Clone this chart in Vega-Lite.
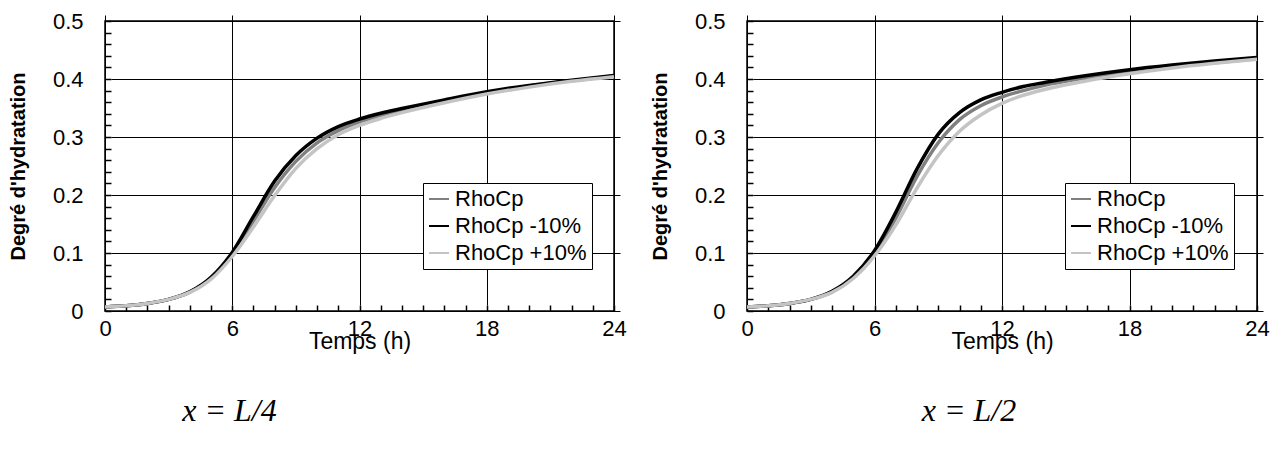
{
  "$schema": "https://vega.github.io/schema/vega-lite/v6.json",
  "padding": {"left": 7, "top": 9, "right": 0, "bottom": 0},
  "background": "white",
  "config": {
    "font": "Liberation Sans",
    "view": {"stroke": "#000", "strokeWidth": 1.5},
    "axis": {
      "domain": false,
      "ticks": true,
      "tickColor": "#000",
      "tickWidth": 1.5,
      "tickOpacity": 1,
      "tickSize": 6,
      "offset": -6,
      "gridColor": "#000",
      "gridWidth": 1,
      "labelFont": "Liberation Sans",
      "labelFontSize": 22,
      "labelColor": "#000",
      "labelFlush": false,
      "labelOverlap": false,
      "titleFont": "Liberation Sans",
      "titleColor": "#000"
    },
    "legend": {
      "orient": "none",
      "legendX": 318,
      "legendY": 162,
      "fillColor": "white",
      "strokeColor": "#000",
      "padding": 5,
      "labelFont": "Liberation Sans",
      "labelFontSize": 22,
      "labelColor": "#000",
      "symbolType": "stroke",
      "symbolSize": 400,
      "symbolStrokeWidth": 2,
      "rowPadding": 5,
      "labelOffset": 5,
      "title": null
    },
    "title": {"font": "Liberation Serif", "fontStyle": "italic", "fontSize": 32, "fontWeight": "normal", "color": "#000", "orient": "bottom", "offset": 43}
  },
  "datasets": {
    "curves": [
      {"panel": "L4", "serie": "RhoCp", "t": 0, "y": 0.007},
      {"panel": "L4", "serie": "RhoCp", "t": 1, "y": 0.009},
      {"panel": "L4", "serie": "RhoCp", "t": 2, "y": 0.013},
      {"panel": "L4", "serie": "RhoCp", "t": 3, "y": 0.02},
      {"panel": "L4", "serie": "RhoCp", "t": 4, "y": 0.033},
      {"panel": "L4", "serie": "RhoCp", "t": 5, "y": 0.057},
      {"panel": "L4", "serie": "RhoCp", "t": 6, "y": 0.098},
      {"panel": "L4", "serie": "RhoCp", "t": 7, "y": 0.155},
      {"panel": "L4", "serie": "RhoCp", "t": 8, "y": 0.213},
      {"panel": "L4", "serie": "RhoCp", "t": 9, "y": 0.258},
      {"panel": "L4", "serie": "RhoCp", "t": 10, "y": 0.29},
      {"panel": "L4", "serie": "RhoCp", "t": 11, "y": 0.311},
      {"panel": "L4", "serie": "RhoCp", "t": 12, "y": 0.326},
      {"panel": "L4", "serie": "RhoCp", "t": 13, "y": 0.337},
      {"panel": "L4", "serie": "RhoCp", "t": 14, "y": 0.346},
      {"panel": "L4", "serie": "RhoCp", "t": 16, "y": 0.362},
      {"panel": "L4", "serie": "RhoCp", "t": 18, "y": 0.376},
      {"panel": "L4", "serie": "RhoCp", "t": 20, "y": 0.388},
      {"panel": "L4", "serie": "RhoCp", "t": 22, "y": 0.397},
      {"panel": "L4", "serie": "RhoCp", "t": 24, "y": 0.405},
      {"panel": "L4", "serie": "RhoCp -10%", "t": 0, "y": 0.007},
      {"panel": "L4", "serie": "RhoCp -10%", "t": 1, "y": 0.009},
      {"panel": "L4", "serie": "RhoCp -10%", "t": 2, "y": 0.013},
      {"panel": "L4", "serie": "RhoCp -10%", "t": 3, "y": 0.02},
      {"panel": "L4", "serie": "RhoCp -10%", "t": 4, "y": 0.033},
      {"panel": "L4", "serie": "RhoCp -10%", "t": 5, "y": 0.058},
      {"panel": "L4", "serie": "RhoCp -10%", "t": 6, "y": 0.101},
      {"panel": "L4", "serie": "RhoCp -10%", "t": 7, "y": 0.163},
      {"panel": "L4", "serie": "RhoCp -10%", "t": 8, "y": 0.224},
      {"panel": "L4", "serie": "RhoCp -10%", "t": 9, "y": 0.268},
      {"panel": "L4", "serie": "RhoCp -10%", "t": 10, "y": 0.298},
      {"panel": "L4", "serie": "RhoCp -10%", "t": 11, "y": 0.318},
      {"panel": "L4", "serie": "RhoCp -10%", "t": 12, "y": 0.331},
      {"panel": "L4", "serie": "RhoCp -10%", "t": 13, "y": 0.341},
      {"panel": "L4", "serie": "RhoCp -10%", "t": 14, "y": 0.349},
      {"panel": "L4", "serie": "RhoCp -10%", "t": 16, "y": 0.364},
      {"panel": "L4", "serie": "RhoCp -10%", "t": 18, "y": 0.378},
      {"panel": "L4", "serie": "RhoCp -10%", "t": 20, "y": 0.389},
      {"panel": "L4", "serie": "RhoCp -10%", "t": 22, "y": 0.398},
      {"panel": "L4", "serie": "RhoCp -10%", "t": 24, "y": 0.406},
      {"panel": "L4", "serie": "RhoCp +10%", "t": 0, "y": 0.007},
      {"panel": "L4", "serie": "RhoCp +10%", "t": 1, "y": 0.009},
      {"panel": "L4", "serie": "RhoCp +10%", "t": 2, "y": 0.013},
      {"panel": "L4", "serie": "RhoCp +10%", "t": 3, "y": 0.02},
      {"panel": "L4", "serie": "RhoCp +10%", "t": 4, "y": 0.032},
      {"panel": "L4", "serie": "RhoCp +10%", "t": 5, "y": 0.055},
      {"panel": "L4", "serie": "RhoCp +10%", "t": 6, "y": 0.094},
      {"panel": "L4", "serie": "RhoCp +10%", "t": 7, "y": 0.145},
      {"panel": "L4", "serie": "RhoCp +10%", "t": 8, "y": 0.199},
      {"panel": "L4", "serie": "RhoCp +10%", "t": 9, "y": 0.246},
      {"panel": "L4", "serie": "RhoCp +10%", "t": 10, "y": 0.28},
      {"panel": "L4", "serie": "RhoCp +10%", "t": 11, "y": 0.304},
      {"panel": "L4", "serie": "RhoCp +10%", "t": 12, "y": 0.32},
      {"panel": "L4", "serie": "RhoCp +10%", "t": 13, "y": 0.332},
      {"panel": "L4", "serie": "RhoCp +10%", "t": 14, "y": 0.342},
      {"panel": "L4", "serie": "RhoCp +10%", "t": 16, "y": 0.359},
      {"panel": "L4", "serie": "RhoCp +10%", "t": 18, "y": 0.374},
      {"panel": "L4", "serie": "RhoCp +10%", "t": 20, "y": 0.386},
      {"panel": "L4", "serie": "RhoCp +10%", "t": 22, "y": 0.396},
      {"panel": "L4", "serie": "RhoCp +10%", "t": 24, "y": 0.404},
      {"panel": "L2", "serie": "RhoCp", "t": 0, "y": 0.007},
      {"panel": "L2", "serie": "RhoCp", "t": 1, "y": 0.009},
      {"panel": "L2", "serie": "RhoCp", "t": 2, "y": 0.013},
      {"panel": "L2", "serie": "RhoCp", "t": 3, "y": 0.02},
      {"panel": "L2", "serie": "RhoCp", "t": 4, "y": 0.033},
      {"panel": "L2", "serie": "RhoCp", "t": 5, "y": 0.058},
      {"panel": "L2", "serie": "RhoCp", "t": 6, "y": 0.1},
      {"panel": "L2", "serie": "RhoCp", "t": 7, "y": 0.16},
      {"panel": "L2", "serie": "RhoCp", "t": 8, "y": 0.232},
      {"panel": "L2", "serie": "RhoCp", "t": 9, "y": 0.29},
      {"panel": "L2", "serie": "RhoCp", "t": 10, "y": 0.33},
      {"panel": "L2", "serie": "RhoCp", "t": 11, "y": 0.354},
      {"panel": "L2", "serie": "RhoCp", "t": 12, "y": 0.369},
      {"panel": "L2", "serie": "RhoCp", "t": 13, "y": 0.38},
      {"panel": "L2", "serie": "RhoCp", "t": 14, "y": 0.389},
      {"panel": "L2", "serie": "RhoCp", "t": 16, "y": 0.402},
      {"panel": "L2", "serie": "RhoCp", "t": 18, "y": 0.413},
      {"panel": "L2", "serie": "RhoCp", "t": 20, "y": 0.421},
      {"panel": "L2", "serie": "RhoCp", "t": 22, "y": 0.428},
      {"panel": "L2", "serie": "RhoCp", "t": 24, "y": 0.435},
      {"panel": "L2", "serie": "RhoCp -10%", "t": 0, "y": 0.007},
      {"panel": "L2", "serie": "RhoCp -10%", "t": 1, "y": 0.009},
      {"panel": "L2", "serie": "RhoCp -10%", "t": 2, "y": 0.013},
      {"panel": "L2", "serie": "RhoCp -10%", "t": 3, "y": 0.02},
      {"panel": "L2", "serie": "RhoCp -10%", "t": 4, "y": 0.034},
      {"panel": "L2", "serie": "RhoCp -10%", "t": 5, "y": 0.06},
      {"panel": "L2", "serie": "RhoCp -10%", "t": 6, "y": 0.104},
      {"panel": "L2", "serie": "RhoCp -10%", "t": 7, "y": 0.17},
      {"panel": "L2", "serie": "RhoCp -10%", "t": 8, "y": 0.245},
      {"panel": "L2", "serie": "RhoCp -10%", "t": 9, "y": 0.305},
      {"panel": "L2", "serie": "RhoCp -10%", "t": 10, "y": 0.342},
      {"panel": "L2", "serie": "RhoCp -10%", "t": 11, "y": 0.364},
      {"panel": "L2", "serie": "RhoCp -10%", "t": 12, "y": 0.377},
      {"panel": "L2", "serie": "RhoCp -10%", "t": 13, "y": 0.387},
      {"panel": "L2", "serie": "RhoCp -10%", "t": 14, "y": 0.394},
      {"panel": "L2", "serie": "RhoCp -10%", "t": 16, "y": 0.406},
      {"panel": "L2", "serie": "RhoCp -10%", "t": 18, "y": 0.416},
      {"panel": "L2", "serie": "RhoCp -10%", "t": 20, "y": 0.424},
      {"panel": "L2", "serie": "RhoCp -10%", "t": 22, "y": 0.431},
      {"panel": "L2", "serie": "RhoCp -10%", "t": 24, "y": 0.437},
      {"panel": "L2", "serie": "RhoCp +10%", "t": 0, "y": 0.007},
      {"panel": "L2", "serie": "RhoCp +10%", "t": 1, "y": 0.009},
      {"panel": "L2", "serie": "RhoCp +10%", "t": 2, "y": 0.013},
      {"panel": "L2", "serie": "RhoCp +10%", "t": 3, "y": 0.02},
      {"panel": "L2", "serie": "RhoCp +10%", "t": 4, "y": 0.032},
      {"panel": "L2", "serie": "RhoCp +10%", "t": 5, "y": 0.056},
      {"panel": "L2", "serie": "RhoCp +10%", "t": 6, "y": 0.095},
      {"panel": "L2", "serie": "RhoCp +10%", "t": 7, "y": 0.148},
      {"panel": "L2", "serie": "RhoCp +10%", "t": 8, "y": 0.212},
      {"panel": "L2", "serie": "RhoCp +10%", "t": 9, "y": 0.268},
      {"panel": "L2", "serie": "RhoCp +10%", "t": 10, "y": 0.31},
      {"panel": "L2", "serie": "RhoCp +10%", "t": 11, "y": 0.338},
      {"panel": "L2", "serie": "RhoCp +10%", "t": 12, "y": 0.358},
      {"panel": "L2", "serie": "RhoCp +10%", "t": 13, "y": 0.372},
      {"panel": "L2", "serie": "RhoCp +10%", "t": 14, "y": 0.382},
      {"panel": "L2", "serie": "RhoCp +10%", "t": 16, "y": 0.397},
      {"panel": "L2", "serie": "RhoCp +10%", "t": 18, "y": 0.409},
      {"panel": "L2", "serie": "RhoCp +10%", "t": 20, "y": 0.419},
      {"panel": "L2", "serie": "RhoCp +10%", "t": 22, "y": 0.427},
      {"panel": "L2", "serie": "RhoCp +10%", "t": 24, "y": 0.434}
    ]
  },
  "resolve": {"legend": {"color": "independent"}},
  "spacing": 22,
  "hconcat": [
    {
      "width": 509,
      "height": 290,
      "title": {"text": "x = L/4", "dx": -130},
      "data": {"name": "curves"},
      "transform": [{"filter": "datum.panel === 'L4'"}],
      "mark": {"type": "line", "strokeWidth": 3.5, "interpolate": "monotone"},
      "encoding": {
        "x": {
          "field": "t", "type": "quantitative",
          "scale": {"domain": [0, 24], "nice": false},
          "axis": {
            "title": "Temps (h)", "titleFontSize": 23, "titleFontWeight": "normal", "titlePadding": -9,
            "values": [0,1,2,3,4,5,6,7,8,9,10,11,12,13,14,15,16,17,18,19,20,21,22,23,24],
            "labelExpr": "datum.value % 6 === 0 ? datum.label : ''",
            "labelPadding": 7,
            "gridOpacity": {"condition": {"test": "datum.value % 6 === 0", "value": 1}, "value": 0}
          }
        },
        "y": {
          "field": "y", "type": "quantitative",
          "scale": {"domain": [0, 0.5], "nice": false},
          "axis": {
            "title": "Degré d'hydratation", "titleFontSize": 20, "titleFontWeight": "bold", "titlePadding": 24,
            "values": [0,0.02,0.04,0.06,0.08,0.1,0.12,0.14,0.16,0.18,0.2,0.22,0.24,0.26,0.28,0.3,0.32,0.34,0.36,0.38,0.4,0.42,0.44,0.46,0.48,0.5],
            "labelExpr": "abs(datum.value*10 - round(datum.value*10)) < 0.000001 ? format(datum.value, '.1~f') : ''",
            "labelPadding": 22,
            "gridOpacity": {"condition": {"test": "abs(datum.value*10 - round(datum.value*10)) < 0.000001", "value": 1}, "value": 0}
          }
        },
        "color": {
          "field": "serie", "type": "nominal",
          "scale": {"domain": ["RhoCp", "RhoCp -10%", "RhoCp +10%"], "range": ["#808080", "#000000", "#c4c4c4"]},
          "legend": {}
        }
      }
    },
    {
      "width": 510,
      "height": 290,
      "title": {"text": "x = L/2", "dx": -33},
      "data": {"name": "curves"},
      "transform": [{"filter": "datum.panel === 'L2'"}],
      "mark": {"type": "line", "strokeWidth": 3.5, "interpolate": "monotone"},
      "encoding": {
        "x": {
          "field": "t", "type": "quantitative",
          "scale": {"domain": [0, 24], "nice": false},
          "axis": {
            "title": "Temps (h)", "titleFontSize": 23, "titleFontWeight": "normal", "titlePadding": -9,
            "values": [0,1,2,3,4,5,6,7,8,9,10,11,12,13,14,15,16,17,18,19,20,21,22,23,24],
            "labelExpr": "datum.value % 6 === 0 ? datum.label : ''",
            "labelPadding": 7,
            "gridOpacity": {"condition": {"test": "datum.value % 6 === 0", "value": 1}, "value": 0}
          }
        },
        "y": {
          "field": "y", "type": "quantitative",
          "scale": {"domain": [0, 0.5], "nice": false},
          "axis": {
            "title": "Degré d'hydratation", "titleFontSize": 20, "titleFontWeight": "bold", "titlePadding": 24,
            "values": [0,0.02,0.04,0.06,0.08,0.1,0.12,0.14,0.16,0.18,0.2,0.22,0.24,0.26,0.28,0.3,0.32,0.34,0.36,0.38,0.4,0.42,0.44,0.46,0.48,0.5],
            "labelExpr": "abs(datum.value*10 - round(datum.value*10)) < 0.000001 ? format(datum.value, '.1~f') : ''",
            "labelPadding": 22,
            "gridOpacity": {"condition": {"test": "abs(datum.value*10 - round(datum.value*10)) < 0.000001", "value": 1}, "value": 0}
          }
        },
        "color": {
          "field": "serie", "type": "nominal",
          "scale": {"domain": ["RhoCp", "RhoCp -10%", "RhoCp +10%"], "range": ["#808080", "#000000", "#c4c4c4"]},
          "legend": {}
        }
      }
    }
  ]
}
